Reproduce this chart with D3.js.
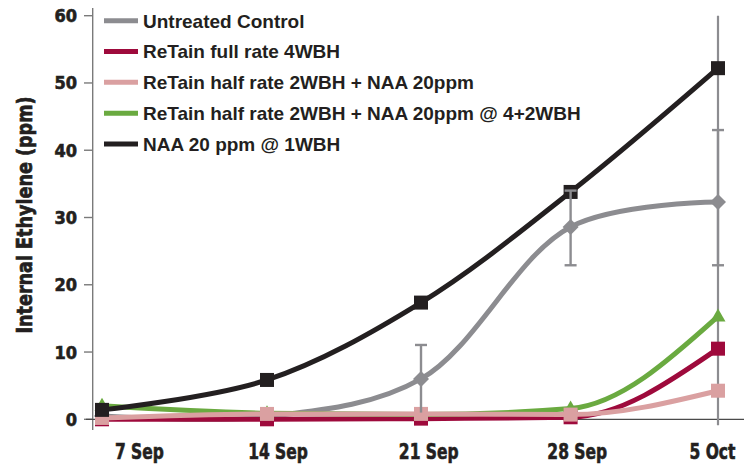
<!DOCTYPE html>
<html><head><meta charset="utf-8">
<script src="https://cdn.jsdelivr.net/npm/d3@7"></script>
<style>body{margin:0;background:#fff}</style>
</head><body><svg id="c" width="744" height="466"></svg>
<script>
// ---- data ----
const sampleDays = [0, 7.5, 14.5, 21.3, 28];
const tickDays = [1.7, 8.0, 14.85, 21.6, 27.75];
const tickLabels = ["7 Sep", "14 Sep", "21 Sep", "28 Sep", "5 Oct"];
const yTicks = [0, 10, 20, 30, 40, 50, 60];
const seriesNames = ["Untreated Control", "ReTain full rate 4WBH", "ReTain half rate 2WBH + NAA 20ppm", "ReTain half rate 2WBH + NAA 20ppm @ 4+2WBH", "NAA 20 ppm @ 1WBH"];
const untreated = [0.5, 0.4, 6.0, 28.6, 32.3];
const retainFull = [0.0, 0.0, 0.1, 0.3, 10.5];
const retainHalf = [0.2, 0.8, 0.8, 0.7, 4.25];
const retainHalfNaa = [2.0, 0.9, 0.7, 1.6, 15.3];
const naa = [1.4, 5.85, 17.35, 33.8, 52.2];
const errLow = [null, null, 1.0, 22.9, 22.9];
const errHigh = [null, null, 11.05, 34.0, 43.0];

const colors = ["#8c8c90", "#9e0a3c", "#daa0a1", "#6aaa40", "#231f20"];
const shapes = ["diamond", "square", "square", "triangle", "square"];
const values = [untreated, retainFull, retainHalf, retainHalfNaa, naa];
const drawOrder = [0, 1, 3, 2, 4];

const svg = d3.select("#c");
const x = d3.scaleLinear().domain([0, 28]).range([102, 718]);
const y = d3.scaleLinear().domain([0, 60]).range([419.3, 15.7]);
const ink = "#231f20";
const heavy = "'DejaVu Sans Condensed', 'DejaVu Sans', sans-serif";

// y axis
svg.append("line").attr("x1", 92.7).attr("x2", 92.7).attr("y1", 8).attr("y2", 430)
  .attr("stroke", "#7a7a7a").attr("stroke-width", 1.4);
const yt = svg.append("g");
yt.selectAll("line").data(yTicks).join("line")
  .attr("x1", 84).attr("x2", 92.7).attr("y1", d => y(d)).attr("y2", d => y(d))
  .attr("stroke", "#7a7a7a").attr("stroke-width", 1.4);
yt.selectAll("text").data(yTicks).join("text")
  .attr("x", 77).attr("y", d => y(d)).attr("dy", "0.36em")
  .attr("text-anchor", "end").attr("fill", ink).attr("stroke", ink).attr("stroke-width", 0.6)
  .style("font-family", heavy)
  .style("font-weight", "bold").style("font-size", "18px")
  .text(d => d);

// x axis baseline
svg.append("line").attr("x1", 86).attr("x2", 744).attr("y1", y(0)).attr("y2", y(0))
  .attr("stroke", "#4a4a4a").attr("stroke-width", 1.3);
// last-date vertical line
svg.append("line").attr("x1", x(28)).attr("x2", x(28)).attr("y1", y(60)).attr("y2", y(0) + 6)
  .attr("stroke", "#8c8c90").attr("stroke-width", 2.2);

// x tick labels (horizontally condensed via transform)
svg.append("g").selectAll("text").data(tickLabels).join("text")
  .attr("transform", (d, i) => `translate(${x(tickDays[i])},459) scale(0.82,1)`)
  .attr("text-anchor", "middle").attr("fill", ink).attr("stroke", ink).attr("stroke-width", 0.6)
  .style("font-family", heavy)
  .style("font-weight", "bold").style("font-size", "21px")
  .text(d => d);

// y title
svg.append("text")
  .attr("transform", "translate(32,215) rotate(-90)")
  .attr("text-anchor", "middle").attr("fill", ink).attr("stroke", ink).attr("stroke-width", 0.7)
  .style("font-family", heavy)
  .style("font-weight", "bold").style("font-size", "22px")
  .attr("textLength", 237).attr("lengthAdjust", "spacingAndGlyphs")
  .text("Internal Ethylene (ppm)");

// lines
const smooth = d3.line().x((d, i) => x(sampleDays[i])).y(d => y(d)).curve(d3.curveCatmullRom.alpha(0.5));
const mono = d3.line().x((d, i) => x(sampleDays[i])).y(d => y(d)).curve(d3.curveMonotoneX);
const curves = [smooth, mono, mono, mono, smooth];

function marker(g, shape, cx, cy, color) {
  if (shape === "square") {
    g.append("rect").attr("x", cx - 7).attr("y", cy - 7).attr("width", 14).attr("height", 14).attr("fill", color);
  } else if (shape === "diamond") {
    g.append("path").attr("d", `M${cx},${cy - 8}L${cx + 8},${cy}L${cx},${cy + 8}L${cx - 8},${cy}Z`).attr("fill", color);
  } else {
    g.append("path").attr("d", `M${cx},${cy - 8}L${cx + 7.5},${cy + 5}L${cx - 7.5},${cy + 5}Z`).attr("fill", color);
  }
}

drawOrder.forEach(si => {
  const g = svg.append("g");
  g.append("path").datum(values[si]).attr("d", curves[si])
    .attr("fill", "none").attr("stroke", colors[si]).attr("stroke-width", 5)
    .attr("stroke-linejoin", "round").attr("stroke-linecap", "round");
  values[si].forEach((v, i) => marker(g, shapes[si], x(sampleDays[i]), y(v), colors[si]));
});

// error bars (untreated)
const eb = svg.append("g").attr("stroke", "#8c8c90").attr("stroke-width", 2.4);
sampleDays.forEach((d, i) => {
  if (errLow[i] == null) return;
  const cx = x(d);
  eb.append("line").attr("x1", cx).attr("x2", cx).attr("y1", y(errLow[i])).attr("y2", y(errHigh[i]));
  eb.append("line").attr("x1", cx - 6).attr("x2", cx + 6).attr("y1", y(errHigh[i])).attr("y2", y(errHigh[i]));
  if (errLow[i] > 2) eb.append("line").attr("x1", cx - 6).attr("x2", cx + 6).attr("y1", y(errLow[i])).attr("y2", y(errLow[i]));
});

// legend
const lg = svg.append("g");
const rowY = d3.scaleLinear().domain([0, 4]).range([20.7, 144]);
seriesNames.forEach((n, i) => {
  lg.append("line").attr("x1", 104).attr("x2", 138).attr("y1", rowY(i)).attr("y2", rowY(i))
    .attr("stroke", colors[i]).attr("stroke-width", 5);
  lg.append("text").attr("x", 143).attr("y", rowY(i)).attr("dy", "0.36em").attr("fill", ink)
    .style("font-family", "'Liberation Sans', Arial, sans-serif")
    .style("font-weight", "bold").style("font-size", "19px")
    .text(n);
});
</script>
</body></html>
